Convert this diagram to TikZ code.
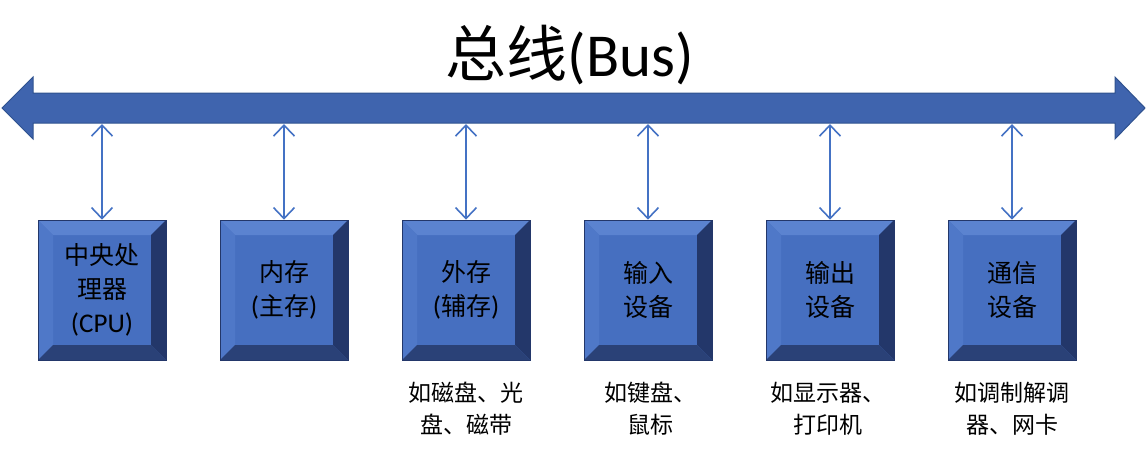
\documentclass[tikz,border=0pt]{standalone}
\usepackage{fontspec}
\setmainfont{Carlito}
\newfontfamily\cjk{Noto Sans CJK SC}
\newfontfamily\lat{Carlito}
\usetikzlibrary{arrows.meta,calc}
\definecolor{busfill}{HTML}{3F64AE}
\definecolor{busdraw}{HTML}{2F528F}
\definecolor{conn}{HTML}{4472C4}
\definecolor{face}{HTML}{466FC0}
\definecolor{bevtop}{HTML}{5B83D0}
\definecolor{bevleft}{HTML}{4F78C8}
\definecolor{bevright}{HTML}{23376A}
\definecolor{bevbot}{HTML}{2A4177}
\tikzset{
  dev/.style={rectangle, minimum width=128pt, minimum height=140pt, inner sep=0pt,
    fill=face, draw=bevright, line width=0.6pt, align=center, text=black,
    font=\fontsize{25pt}{34pt}\selectfont\cjk,
    path picture={
      \coordinate (nw) at (path picture bounding box.north west);
      \coordinate (ne) at (path picture bounding box.north east);
      \coordinate (sw) at (path picture bounding box.south west);
      \coordinate (se) at (path picture bounding box.south east);
      \fill[bevtop] (nw) -- (ne) -- ([shift={(-15pt,-15pt)}]ne) -- ([shift={(15pt,-15pt)}]nw) -- cycle;
      \fill[bevleft] (nw) -- (sw) -- ([shift={(15pt,15pt)}]sw) -- ([shift={(15pt,-15pt)}]nw) -- cycle;
      \fill[bevright] (ne) -- (se) -- ([shift={(-15pt,15pt)}]se) -- ([shift={(-15pt,-15pt)}]ne) -- cycle;
      \fill[bevbot] (sw) -- (se) -- ([shift={(-15pt,15pt)}]se) -- ([shift={(15pt,15pt)}]sw) -- cycle;
    }},
  note/.style={align=center, text=black, font=\fontsize{23pt}{32pt}\selectfont\cjk},
  link/.style={conn, line width=1.6pt, {Straight Barb[length=11pt,width=21pt,line width=1.6pt]}-{Straight Barb[length=11pt,width=21pt,line width=1.6pt]}}
}
\begin{document}
\begin{tikzpicture}[x=1pt,y=-1pt]
\useasboundingbox (0,0) rectangle (1147,450);
% bus arrow
\draw[fill=busfill, draw=busdraw, line width=1pt]
  (2,108) -- (33,77) -- (33,93) -- (1115,93) -- (1115,77) -- (1145,108)
  -- (1115,139) -- (1115,123) -- (33,123) -- (33,139) -- cycle;
\node (title) at (570,55) {\fontsize{61pt}{63pt}\selectfont{\cjk 总线}{\lat (Bus)}};
% devices
\node[dev] (cpu) at (102,290) {中央处\\理器\\{\lat\fontsize{27pt}{34pt}\selectfont (CPU)}};
\node[dev] (mem) at (284,290) {内存\\{\lat\fontsize{27pt}{34pt}\selectfont (}主存{\lat\fontsize{27pt}{34pt}\selectfont )}};
\node[dev] (ext) at (466,290) {外存\\{\lat\fontsize{27pt}{34pt}\selectfont (}辅存{\lat\fontsize{27pt}{34pt}\selectfont )}};
\node[dev] (in)  at (648,290) {输入\\设备};
\node[dev] (out) at (830,290) {输出\\设备};
\node[dev] (com) at (1012,290) {通信\\设备};
\foreach \n/\x in {cpu/102,mem/284,ext/466,in/648,out/830,com/1012}{
  \coordinate (b\n) at (\x,124);
  \draw[link] (b\n) -- (\n.north);
}
\node[note] (next) at (466,409) {如磁盘、光\\盘、磁带};
\node[note] (nin)  at (650,409) {如键盘、\\鼠标};
\node[note] (nout) at (828,409) {如显示器、\\打印机};
\node[note] (ncom) at (1012,409) {如调制解调\\器、网卡};
\end{tikzpicture}
\end{document}
